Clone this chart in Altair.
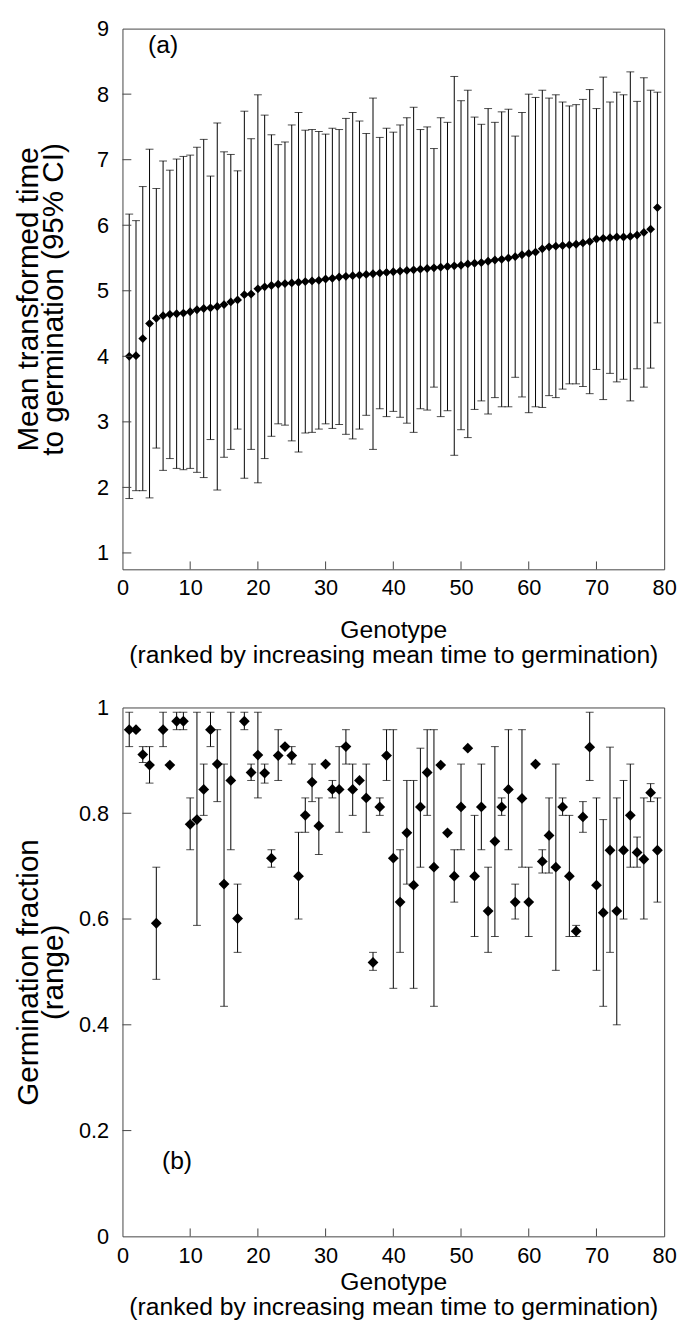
import altair as alt
import pandas as pd

FONT = "Liberation Sans"

genotype = list(range(1, 80))

# Panel (a): mean transformed time to germination with 95% CI
mean_a = [4.00, 4.01, 4.27, 4.50, 4.58, 4.62, 4.64, 4.65, 4.66, 4.68,
          4.71, 4.73, 4.74, 4.76, 4.79, 4.83, 4.86, 4.94, 4.95, 5.03,
          5.06, 5.08, 5.10, 5.11, 5.12, 5.13, 5.14, 5.15, 5.16, 5.18,
          5.19, 5.21, 5.22, 5.23, 5.24, 5.25, 5.26, 5.27, 5.28, 5.29,
          5.30, 5.31, 5.32, 5.33, 5.34, 5.35, 5.36, 5.37, 5.38, 5.39,
          5.41, 5.42, 5.43, 5.45, 5.47, 5.48, 5.50, 5.52, 5.55, 5.57,
          5.59, 5.64, 5.67, 5.68, 5.69, 5.70, 5.71, 5.73, 5.75, 5.79,
          5.80, 5.81, 5.82, 5.82, 5.83, 5.85, 5.89, 5.94, 6.27]
upper_a = [6.17, 6.07, 6.59, 7.16, 6.56, 6.98, 6.84, 7.01, 7.05, 7.07,
           7.19, 7.31, 6.75, 7.56, 7.12, 7.08, 6.83, 7.74, 7.32, 7.99,
           7.68, 7.38, 7.23, 7.27, 7.53, 7.72, 7.45, 7.46, 7.43, 7.39,
           7.48, 7.46, 7.63, 7.72, 7.59, 7.40, 7.94, 7.34, 7.48, 7.42,
           7.53, 7.64, 7.80, 7.46, 7.50, 7.17, 7.64, 7.57, 8.27, 7.90,
           8.06, 7.65, 7.54, 7.78, 7.57, 7.73, 7.77, 7.36, 7.72, 8.00,
           7.95, 8.06, 7.94, 7.99, 7.88, 7.82, 7.84, 7.92, 8.07, 7.78,
           8.26, 7.88, 8.03, 7.99, 8.34, 7.89, 8.25, 8.06, 8.03]
lower_a = [1.83, 1.95, 1.95, 1.84, 2.60, 2.26, 2.44, 2.29, 2.27, 2.29,
           2.23, 2.15, 2.73, 1.96, 2.46, 2.58, 2.89, 2.14, 2.58, 2.07,
           2.44, 2.78, 2.97, 2.95, 2.71, 2.54, 2.83, 2.84, 2.89, 2.97,
           2.90, 2.96, 2.81, 2.74, 2.89, 3.10, 2.58, 3.20, 3.08, 3.16,
           3.07, 2.98, 2.84, 3.20, 3.18, 3.53, 3.08, 3.17, 2.49, 2.88,
           2.76, 3.19, 3.32, 3.12, 3.37, 3.23, 3.23, 3.68, 3.38, 3.14,
           3.23, 3.22, 3.40, 3.37, 3.50, 3.58, 3.58, 3.54, 3.43, 3.80,
           3.34, 3.74, 3.61, 3.65, 3.32, 3.81, 3.53, 3.82, 4.51]

# Panel (b): germination fraction with range
frac_b = [0.958, 0.958, 0.911, 0.891, 0.592, 0.958, 0.891, 0.974, 0.974, 0.779,
          0.788, 0.845, 0.958, 0.893, 0.666, 0.862, 0.601, 0.974, 0.877, 0.910,
          0.876, 0.715, 0.909, 0.926, 0.909, 0.681, 0.796, 0.859, 0.776, 0.893,
          0.845, 0.845, 0.926, 0.845, 0.862, 0.829, 0.518, 0.812, 0.909, 0.715,
          0.632, 0.763, 0.664, 0.812, 0.877, 0.698, 0.891, 0.763, 0.681, 0.812,
          0.923, 0.681, 0.812, 0.615, 0.747, 0.812, 0.845, 0.632, 0.828, 0.632,
          0.893, 0.709, 0.758, 0.698, 0.812, 0.681, 0.577, 0.793, 0.925, 0.664,
          0.612, 0.730, 0.615, 0.730, 0.796, 0.726, 0.713, 0.839, 0.730]
lo_b = [0.926, None, 0.896, 0.857, 0.486, 0.926, None, 0.958, 0.958, 0.731,
        0.588, 0.796, 0.926, 0.822, 0.435, 0.731, 0.537, 0.958, 0.862, 0.829,
        0.857, 0.698, 0.862, None, 0.893, 0.600, 0.764, 0.822, 0.722, None,
        0.829, 0.764, 0.893, 0.796, None, 0.764, 0.503, 0.796, 0.862, 0.469,
        0.537, 0.666, 0.469, 0.698, 0.796, 0.435, None, None, 0.632, 0.731,
        None, 0.567, 0.731, 0.537, 0.567, 0.796, 0.731, 0.600, 0.698, 0.567,
        None, 0.687, 0.687, 0.503, 0.796, 0.567, 0.567, 0.764, 0.862, 0.503,
        0.435, 0.537, 0.400, 0.600, 0.698, 0.698, 0.600, 0.822, 0.632]
hi_b = [0.991, None, 0.926, 0.926, 0.698, 0.991, None, 0.991, 0.991, 0.829,
        0.991, 0.893, 0.991, 0.958, 0.893, 0.991, 0.666, 0.991, 0.893, 0.991,
        0.893, 0.731, 0.958, None, 0.926, 0.764, 0.829, 0.893, 0.829, None,
        0.862, 0.926, 0.958, 0.893, None, 0.893, 0.537, 0.829, 0.958, 0.958,
        0.731, 0.862, 0.862, 0.923, 0.958, 0.958, None, None, 0.731, 0.893,
        None, 0.796, 0.893, 0.698, 0.926, 0.829, 0.958, 0.666, 0.958, 0.698,
        None, 0.731, 0.829, 0.893, 0.829, 0.796, 0.588, 0.822, 0.991, 0.829,
        0.788, 0.925, 0.829, 0.862, 0.893, 0.755, 0.829, 0.856, 0.829]

x_ticks = [0, 10, 20, 30, 40, 50, 60, 70, 80]
x_inner_ticks = [10, 20, 30, 40, 50, 60, 70]
ya_ticks = [1, 2, 3, 4, 5, 6, 7, 8, 9]
ya_inner_ticks = [1, 2, 3, 4, 5, 6, 7, 8]
yb_ticks = [0, 0.2, 0.4, 0.6, 0.8, 1]
yb_inner_ticks = [0.2, 0.4, 0.6, 0.8]

x_title = ["Genotype", "(ranked by increasing mean time to germination)"]
ya_title = ["Mean transformed time", "to germination (95% CI)"]
yb_title = ["Germination fraction", "(range)"]

W = 549
HA = 548
HB = 536

df_a = pd.DataFrame({"g": genotype, "mean": mean_a, "lo": lower_a, "hi": upper_a})
df_b = pd.DataFrame({"g": genotype, "frac": frac_b, "lo": lo_b, "hi": hi_b})
df_b_err = df_b.dropna()

xs = alt.Scale(domain=[0, 80], nice=False, zero=False)
ya = alt.Scale(domain=[0.75, 9], nice=False, zero=False)
yb = alt.Scale(domain=[0, 1], nice=False, zero=False)


def x_axis(title_y):
    return alt.Axis(values=x_ticks, ticks=False, tickSize=0, domain=False, grid=False,
                    labelFontSize=22, labelPadding=9, labelFlush=False, labelOverlap=False,
                    labelColor="black", title=x_title, titleFontSize=25,
                    titleFontWeight="normal", titleColor="black", titleX=W / 2,
                    titleY=title_y, titleAlign="center", titleBaseline="top",
                    titleAngle=0, titleLineHeight=25)


def y_axis(values, title, h, fmt=None):
    kw = dict(values=values, ticks=False, tickSize=0, domain=False, grid=False,
              labelFontSize=22, labelPadding=14, labelFlush=False, labelOverlap=False,
              labelColor="black", title=title, titleFontSize=30, titleFontWeight="normal",
              titleColor="black", titleAngle=270, titleAlign="center",
              titleBaseline="bottom", titleX=-80, titleY=h / 2, titleLineHeight=25)
    if fmt:
        kw["format"] = fmt
    return alt.Axis(**kw)


def panel(df, df_err, ycol, yscale, yaxis, h, msize, label, label_x, label_y,
          label_base, yinner, title_y):
    X = alt.X("g:Q", scale=xs, axis=x_axis(title_y))
    err = alt.Chart(df_err).mark_errorbar(
        color="black", thickness=1, ticks={"size": 8}
    ).encode(x=X, y=alt.Y("lo:Q", scale=yscale, axis=yaxis), y2="hi:Q")
    pts = alt.Chart(df).mark_point(
        shape="diamond", filled=True, size=msize, color="black", opacity=1, strokeWidth=0
    ).encode(x=X, y=alt.Y(f"{ycol}:Q", scale=yscale, axis=yaxis))
    xt = alt.Chart(pd.DataFrame({"t": x_inner_ticks})).mark_rule(
        color="#444", strokeWidth=1
    ).encode(x=alt.X("t:Q", scale=xs, axis=x_axis(title_y)), y=alt.value(h),
             y2=alt.value(h - 8))
    yt = alt.Chart(pd.DataFrame({"t": yinner})).mark_rule(
        color="#444", strokeWidth=1
    ).encode(y=alt.Y("t:Q", scale=yscale, axis=yaxis), x=alt.value(0), x2=alt.value(9))
    lab = alt.Chart(pd.DataFrame({"label": [label]})).mark_text(
        align="left", baseline=label_base, fontSize=25, font=FONT, color="black"
    ).encode(text="label:N", x=alt.value(label_x), y=alt.value(label_y))
    return alt.layer(err, pts, xt, yt, lab).properties(width=W, height=h)


panel_a = panel(df_a, df_a, "mean", ya, y_axis(ya_ticks, ya_title, HA), HA, 80,
                "(a)", 26, 5, "top", ya_inner_ticks, 49)
panel_b = panel(df_b, df_b_err, "frac", yb, y_axis(yb_ticks, yb_title, HB, ".1~f"), HB, 120,
                "(b)", 40, HB - 76, "middle", yb_inner_ticks, 34)

chart = alt.vconcat(panel_a, panel_b, spacing=28).properties(
    padding={"left": 5, "top": 0, "right": 0, "bottom": 0}
).configure_view(
    stroke="#444", strokeWidth=1
).configure_axis(
    labelFont=FONT, titleFont=FONT
).configure_text(font=FONT)

chart.save("out.html", embed_options={"renderer": "svg", "actions": False})
